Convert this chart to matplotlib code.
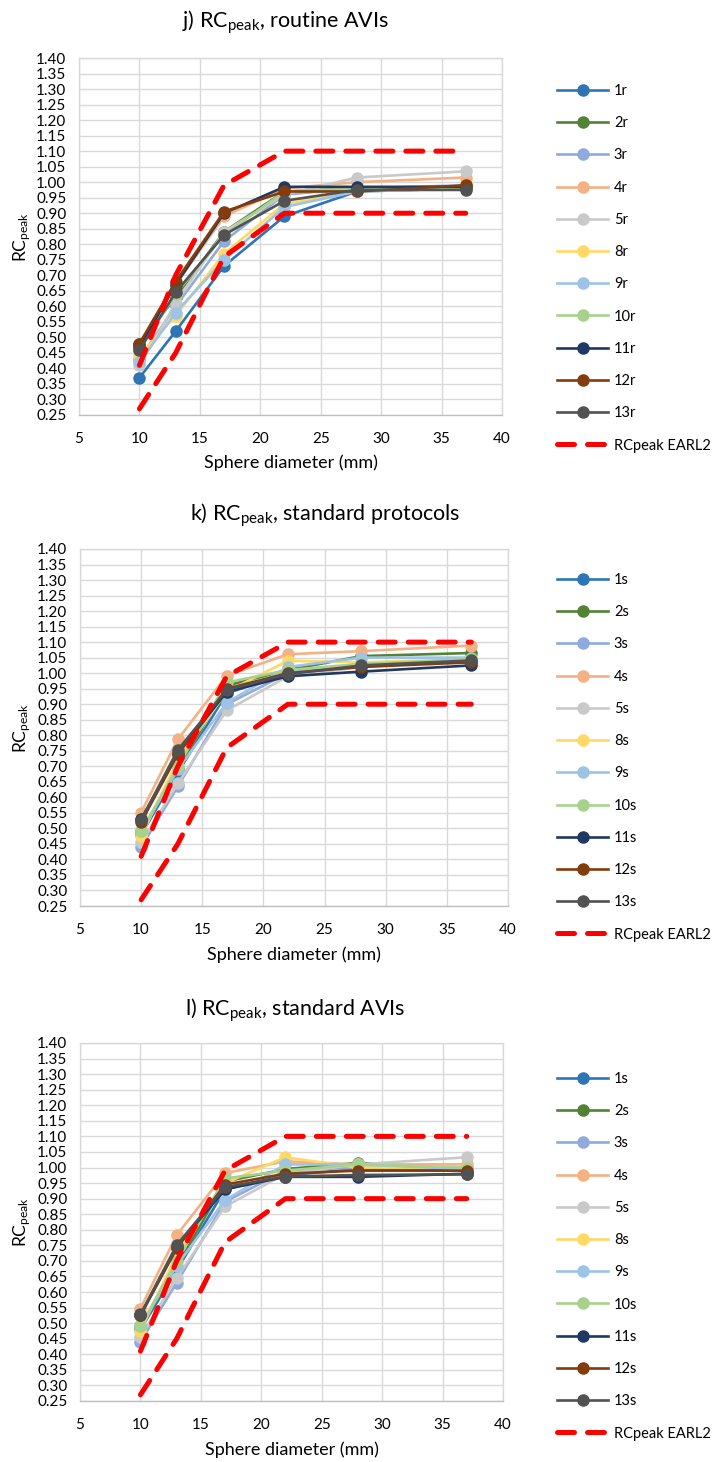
import matplotlib
matplotlib.use("Agg")
import matplotlib.pyplot as plt

plt.rcParams['font.family'] = ['Lato', 'DejaVu Sans']
plt.rcParams['mathtext.fontset'] = 'custom'
plt.rcParams['mathtext.rm'] = 'Lato'
plt.rcParams['mathtext.it'] = 'Lato:italic'

diam = [10, 13, 17, 22, 28, 37]
earl_low = [0.27, 0.45, 0.76, 0.90, 0.90, 0.90]
earl_high = [0.41, 0.70, 0.99, 1.10, 1.10, 1.10]

colors = ['#2E75B6', '#548235', '#8FAADC', '#F4B183', '#C9C9C9', '#FFD966',
          '#9DC3E6', '#A9D18E', '#203864', '#843C0C', '#525252']

labels_r = ['1r', '2r', '3r', '4r', '5r', '8r', '9r', '10r', '11r', '12r', '13r']
labels_s = ['1s', '2s', '3s', '4s', '5s', '8s', '9s', '10s', '11s', '12s', '13s']

routine_avi = [
    [0.37, 0.52, 0.73, 0.89, 0.97, 0.98],
    [0.48, 0.63, 0.84, 0.97, 0.98, 0.98],
    [0.43, 0.60, 0.81, 0.96, 0.98, 0.99],
    [0.47, 0.67, 0.89, 0.98, 1.00, 1.015],
    [0.41, 0.61, 0.84, 0.96, 1.015, 1.035],
    [0.44, 0.57, 0.77, 0.93, 0.97, 0.98],
    [0.42, 0.58, 0.75, 0.92, 0.97, 0.98],
    [0.46, 0.64, 0.83, 0.97, 0.98, 0.98],
    [0.47, 0.67, 0.90, 0.985, 0.985, 0.985],
    [0.48, 0.68, 0.905, 0.97, 0.97, 0.99],
    [0.46, 0.645, 0.83, 0.94, 0.975, 0.975],
]

standard_prot = [
    [0.48, 0.68, 0.935, 1.00, 1.03, 1.04],
    [0.49, 0.69, 0.96, 1.01, 1.055, 1.065],
    [0.44, 0.635, 0.90, 1.00, 1.03, 1.04],
    [0.551, 0.787, 0.992, 1.061, 1.071, 1.089],
    [0.455, 0.645, 0.88, 0.99, 1.02, 1.04],
    [0.475, 0.72, 0.94, 1.04, 1.035, 1.045],
    [0.49, 0.69, 0.905, 1.02, 1.05, 1.05],
    [0.49, 0.70, 0.97, 1.01, 1.03, 1.045],
    [0.53, 0.74, 0.94, 0.99, 1.005, 1.025],
    [0.52, 0.74, 0.95, 1.00, 1.02, 1.035],
    [0.527, 0.753, 0.946, 0.997, 1.025, 1.041],
]

standard_avi = [
    [0.48, 0.67, 0.93, 0.975, 0.995, 0.99],
    [0.49, 0.68, 0.955, 0.995, 1.015, 0.995],
    [0.44, 0.63, 0.89, 0.99, 1.00, 1.00],
    [0.547, 0.783, 0.982, 1.02, 1.01, 1.01],
    [0.455, 0.645, 0.875, 0.98, 1.01, 1.033],
    [0.475, 0.72, 0.95, 1.033, 1.00, 1.00],
    [0.49, 0.685, 0.895, 1.01, 1.01, 0.995],
    [0.49, 0.70, 0.965, 0.99, 1.01, 1.00],
    [0.525, 0.745, 0.93, 0.97, 0.97, 0.98],
    [0.525, 0.74, 0.945, 0.98, 0.99, 0.99],
    [0.528, 0.751, 0.937, 0.971, 0.976, 0.978],
]

yticks = [0.25 + 0.05 * i for i in range(24)]
xticks = [5, 10, 15, 20, 25, 30, 35, 40]

W, H = 713, 1462
fig = plt.figure(figsize=(W / 100, H / 100), dpi=100)

panels = [
    dict(data=routine_avi, labels=labels_r, title=r"j) RC$_{\mathrm{peak}}$, routine AVIs",
         box=(79, 58, 502, 415), title_xy=(285, 22), xlabel_y=463, leg_top=84),
    dict(data=standard_prot, labels=labels_s, title=r"k) RC$_{\mathrm{peak}}$, standard protocols",
         box=(80, 549, 508, 906), title_xy=(325, 515), xlabel_y=955, leg_top=573),
    dict(data=standard_avi, labels=labels_s, title=r"l) RC$_{\mathrm{peak}}$, standard AVIs",
         box=(80, 1043, 503, 1401), title_xy=(295, 1010), xlabel_y=1450, leg_top=1072),
]

for p in panels:
    x0, y0, x1, y1 = p['box']
    ax = fig.add_axes([x0 / W, 1 - y1 / H, (x1 - x0) / W, (y1 - y0) / H])
    for vals, lab, c in zip(p['data'], p['labels'], colors):
        ax.plot(diam, vals, color=c, lw=1.9, marker='o', ms=8, label=lab, zorder=3)
    ax.plot(diam, earl_low, color='#FF0000', lw=3.6, dashes=(3.4, 2.6),
            dash_capstyle='round', label='RCpeak EARL2', zorder=4)
    ax.plot(diam, earl_high, color='#FF0000', lw=3.6, dashes=(3.4, 2.6),
            dash_capstyle='round', zorder=4)
    ax.set_xlim(5, 40)
    ax.set_ylim(0.25, 1.40)
    ax.set_xticks(xticks)
    ax.set_yticks(yticks)
    ax.set_yticklabels([f"{v:.2f}" for v in yticks])
    ax.grid(True, color='#D9D9D9', lw=1.0, zorder=0)
    ax.set_axisbelow(True)
    ax.tick_params(length=0, labelsize=11, colors='#000000', pad=9)
    ax.tick_params(axis='x', pad=12)
    for s in ax.spines.values():
        s.set_color('#D9D9D9')
        s.set_linewidth(1.0)
    ax.spines['bottom'].set_color('#BFBFBF')
    fig.text(p['title_xy'][0] / W, 1 - p['title_xy'][1] / H, p['title'],
             ha='center', va='center', fontsize=15.5)
    fig.text((x0 + x1) / 2 / W, 1 - p['xlabel_y'] / H, 'Sphere diameter (mm)',
             ha='center', va='center', fontsize=13)
    fig.text(22 / W, 1 - ((y0 + y1) / 2) / H, r"RC$_{\mathrm{peak}}$", rotation=90,
             ha='center', va='center', fontsize=12.5)
    fig.legend(handles=ax.get_lines()[:12], loc='upper left',
               bbox_to_anchor=(557 / W, 1 - p['leg_top'] / H), frameon=False,
               fontsize=10.5, handlelength=3.5, labelspacing=1.25, borderpad=0,
               borderaxespad=0, handletextpad=0.4)

fig.savefig('out.png', dpi=100, facecolor='white')
